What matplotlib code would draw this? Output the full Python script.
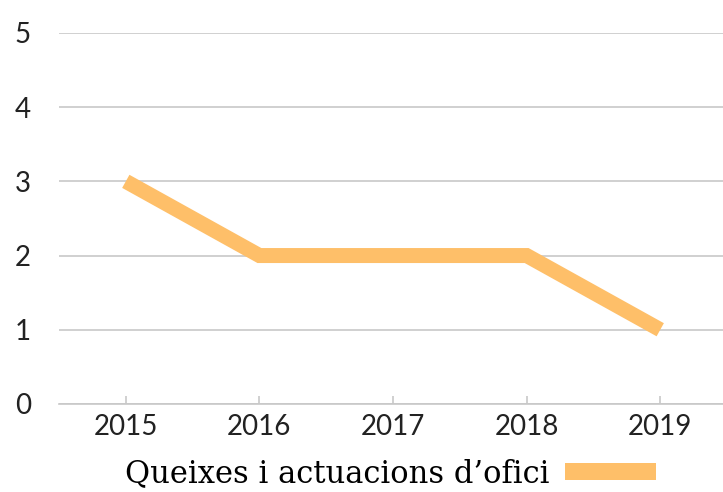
import matplotlib.pyplot as plt
from matplotlib.patches import Patch

YEARS = ['2015', '2016', '2017', '2018', '2019']
QUEIXES = [3, 2, 2, 2, 1]
SERIES_LABEL = 'Queixes i actuacions d\u2019ofici'

LINE_COLOR = '#febf69'
GRID_COLOR = '#c8c8c8'


def main():
    fig = plt.figure(figsize=(7.23, 4.92), dpi=100)
    ax = fig.add_axes([0.0816, 0.179, 0.924, 0.754])
    x = list(range(len(YEARS)))
    ax.plot(x, QUEIXES, color=LINE_COLOR, linewidth=10.8, solid_capstyle='butt',
            solid_joinstyle='miter')
    ax.set_xlim(-0.5, 4.5)
    ax.set_ylim(0, 5)
    ax.set_xticks(x)
    ax.set_xticklabels(YEARS, fontfamily='Lato', fontsize=20, color='#222222')
    ax.set_yticks(range(6))
    ax.set_yticklabels([str(i) for i in range(6)], fontfamily='Lato', fontsize=20,
                       color='#222222')
    ax.yaxis.grid(True, color=GRID_COLOR, linewidth=1.2)
    ax.set_axisbelow(True)
    for side in ['top', 'right', 'left']:
        ax.spines[side].set_visible(False)
    ax.spines['bottom'].set_color(GRID_COLOR)
    ax.spines['bottom'].set_linewidth(1.2)
    ax.tick_params(axis='x', direction='in', length=6, color=GRID_COLOR, width=1.2, pad=7)
    ax.tick_params(axis='y', length=0, pad=26)
    for lbl in ax.get_yticklabels():
        lbl.set_horizontalalignment('center')
    handle = Patch(facecolor=LINE_COLOR, edgecolor='none')
    fig.legend(handles=[handle], labels=[SERIES_LABEL], loc='lower center',
               bbox_to_anchor=(0.54, -0.026), frameon=False,
               prop={'family': 'DejaVu Serif', 'size': 22}, markerfirst=False,
               handlelength=2.97, handleheight=0.49, handletextpad=0.5, borderpad=0)
    plt.savefig('out.png', dpi=100)


if __name__ == '__main__':
    main()
